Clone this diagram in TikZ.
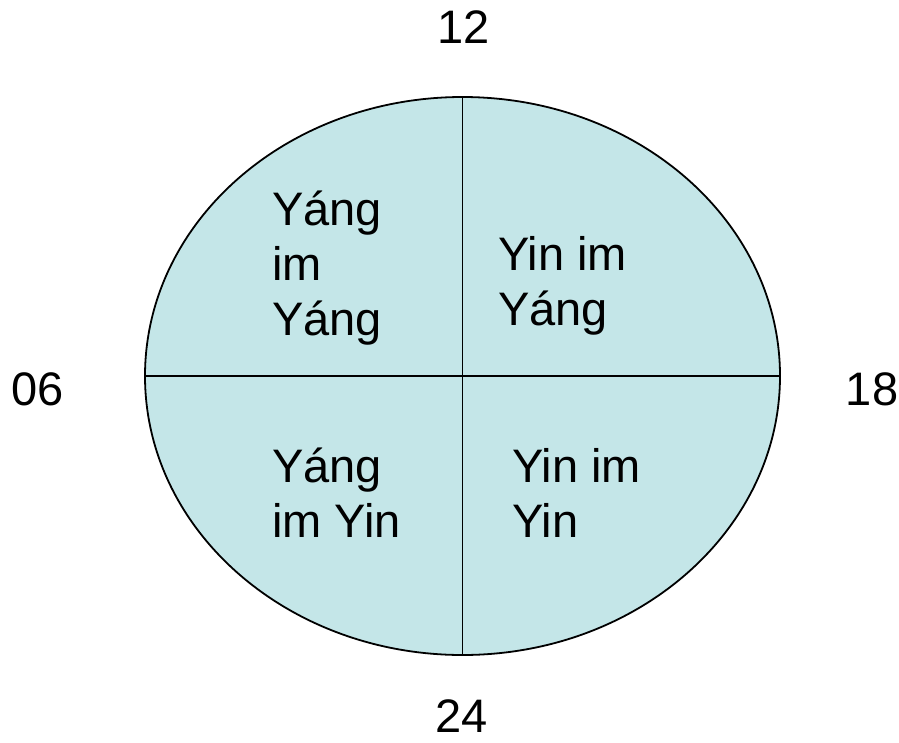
\documentclass[tikz,border=0pt]{standalone}
\usepackage{fontspec}
\setmainfont{Liberation Sans}
\usetikzlibrary{shapes.geometric}
\definecolor{quadfill}{RGB}{196,230,232}
\begin{document}
\begin{tikzpicture}[x=1pt,y=-1pt,
  lbl/.style={font=\fontsize{47}{55}\selectfont, inner sep=0pt, anchor=base west, align=left},
  sep/.style={line width=1.8pt, draw=black}]
\useasboundingbox (0,0) rectangle (899,742);
\node[ellipse, draw=black, line width=1.8pt, fill=quadfill, minimum width=635pt, minimum height=558pt, inner sep=0pt, outer sep=0pt] (e) at (462.5,376) {};
\draw[sep] (e.north) -- (e.south);
\draw[sep] (e.west) -- (e.east);
\node[lbl] (q1) at (272,335) {Yáng\\im\\Yáng};
\node[lbl] (q2) at (498,325) {Yin im\\Yáng};
\node[lbl] (q3) at (272,537) {Yáng\\im Yin};
\node[lbl] (q4) at (512,537) {Yin im\\Yin};
\node[lbl, anchor=base] (t12) at (464,43) {12};
\node[lbl, anchor=base] (t24) at (462,732) {24};
\node[lbl, anchor=base] (t06) at (38,405) {06};
\node[lbl, anchor=base] (t18) at (872,405) {18};
\end{tikzpicture}
\end{document}
